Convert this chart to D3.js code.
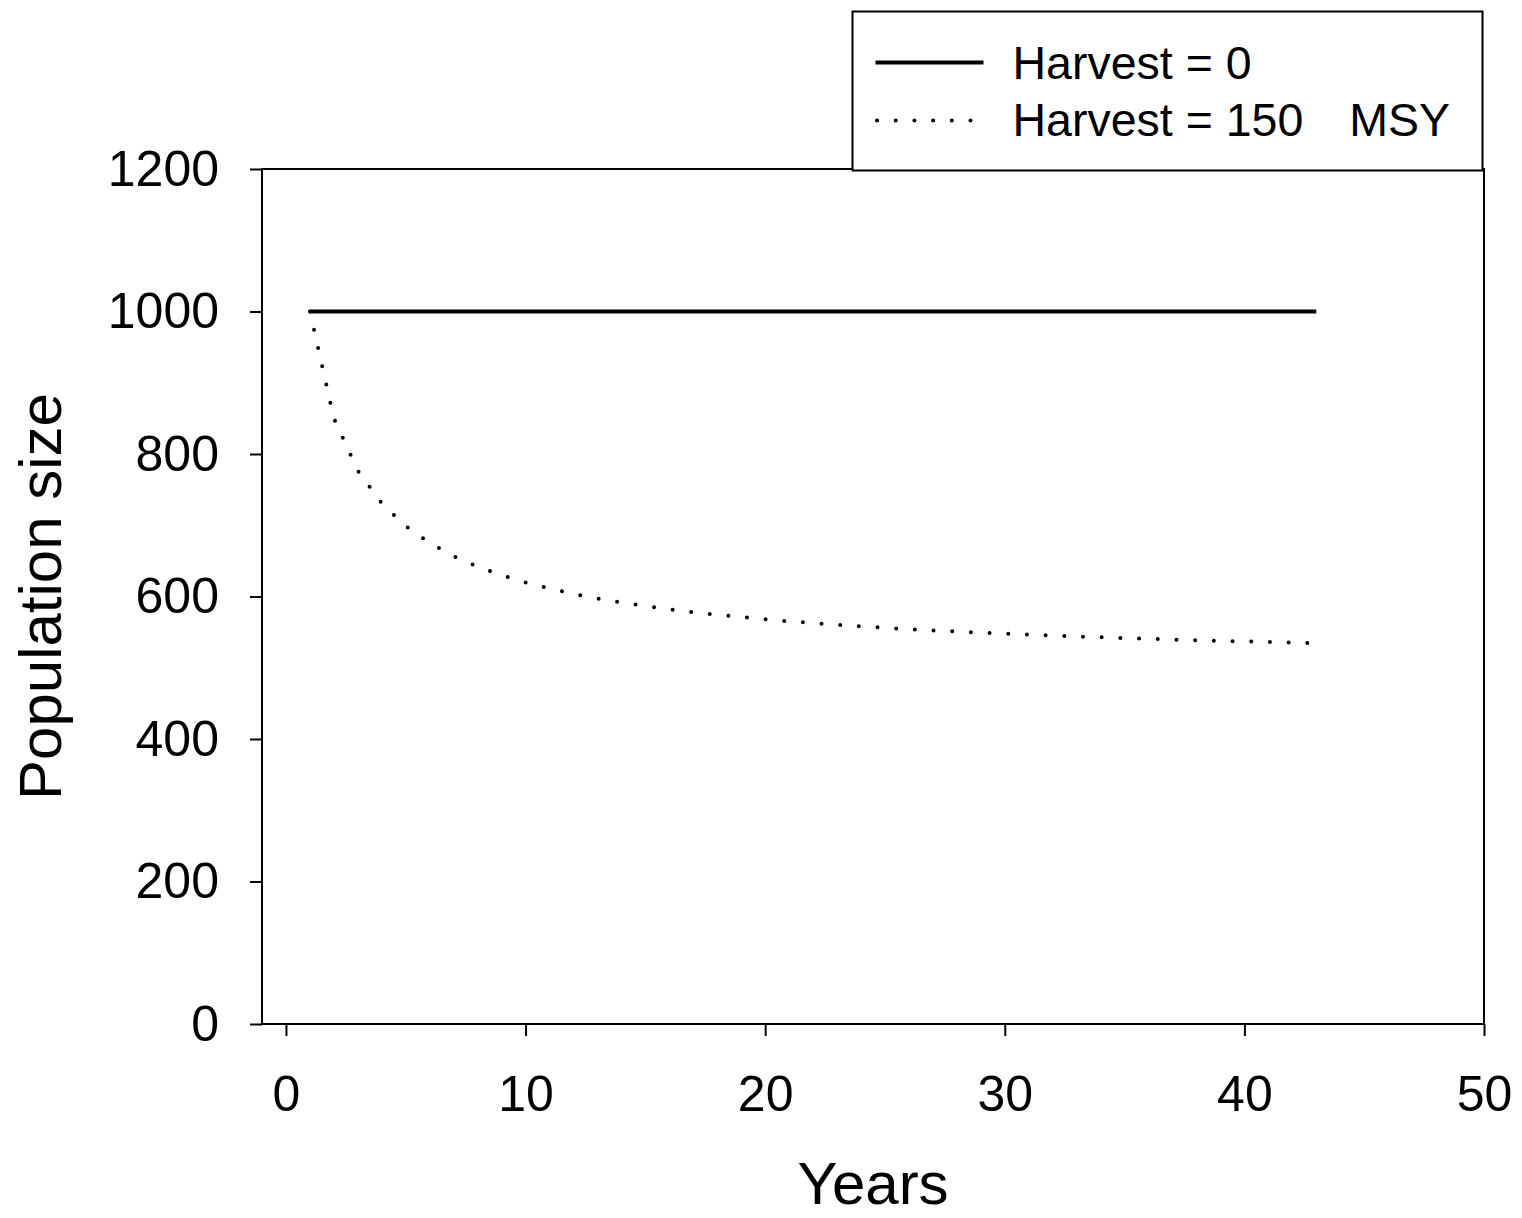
<!DOCTYPE html>
<html>
<head>
<meta charset="utf-8">
<script src="https://cdn.jsdelivr.net/npm/d3@7"></script>
<style>
body{margin:0;background:#fff;}
text{font-family:"Liberation Sans",Arial,sans-serif;fill:#000;}
</style>
</head>
<body>
<div class="chart"></div>
<script>
// data
const years = d3.range(1, 44);
const harvest0 = years.map(() => 1000);
const harvest150 = [1000, 850, 776.5, 730.6, 698.7, 675.0, 656.7, 641.9, 629.8, 619.7,
  611.1, 603.7, 597.3, 591.6, 586.6, 582.1, 578.0, 574.4, 571.1, 568.0,
  565.2, 562.7, 560.3, 558.2, 556.1, 554.2, 552.5, 550.8, 549.3, 547.8,
  546.4, 545.2, 543.9, 542.8, 541.7, 540.6, 539.6, 538.7, 537.8, 536.9,
  536.1, 535.3, 534.6];
const xTicks = [0, 10, 20, 30, 40, 50];
const yTicks = [0, 200, 400, 600, 800, 1000, 1200];
const legendLabels = ['Harvest = 0', 'Harvest = 150'];

const svg_width = 1522, svg_height = 1218;
const margin = {top:169, right:38, bottom:194, left:262};
const chart_width = svg_width - margin.left - margin.right;
const chart_height = svg_height - margin.top - margin.bottom;

const svg = d3.select('.chart').append('svg')
  .attr('width', svg_width).attr('height', svg_height);
const g = svg.append('g').attr('transform', `translate(${margin.left},${margin.top})`);

const xScale = d3.scaleLinear([-1, 50], [0, chart_width]);
const yScale = d3.scaleLinear([0, 1200], [chart_height, 0]);

//axes
const xAxis = d3.axisBottom(xScale).tickValues(xTicks).tickFormat(d3.format('d'))
  .tickSizeInner(12).tickSizeOuter(0).tickPadding(39);
const yAxis = d3.axisLeft(yScale).tickValues(yTicks).tickFormat(d3.format('d'))
  .tickSizeInner(12).tickSizeOuter(0).tickPadding(31);

const xAxisDraw = g.append('g').attr('transform', `translate(0,${chart_height})`).call(xAxis);
const yAxisDraw = g.append('g').call(yAxis);
[xAxisDraw, yAxisDraw].forEach(a => {
  a.select('.domain').remove();
  a.selectAll('line').attr('stroke', '#000').attr('stroke-width', 2);
  a.selectAll('text').style('font-size', '50px').attr('font-family', null);
});

//frame
g.append('rect').attr('x', 0).attr('y', 0)
  .attr('width', chart_width).attr('height', chart_height)
  .attr('fill', 'none').attr('stroke', '#000').attr('stroke-width', 2);

//lines
const line = d3.line().x((d, i) => xScale(years[i])).y(d => yScale(d));
g.append('path').datum(harvest0).attr('d', line)
  .attr('fill', 'none').attr('stroke', '#000').attr('stroke-width', 4);
g.append('path').datum(harvest150).attr('d', line)
  .attr('fill', 'none').attr('stroke', '#000').attr('stroke-width', 4)
  .attr('stroke-linecap', 'round').attr('stroke-dasharray', '0 18.7');

//axis titles
svg.append('text').attr('x', margin.left + chart_width / 2).attr('y', 1204)
  .attr('text-anchor', 'middle').style('font-size', '60px').text('Years');
svg.append('text').attr('transform', `translate(61,${margin.top + chart_height / 2}) rotate(-90)`)
  .attr('text-anchor', 'middle').style('font-size', '60px').text('Population size');

//legend
const legend = svg.append('g').attr('transform', 'translate(852.5,11.5)');
legend.append('rect').attr('width', 630).attr('height', 159)
  .attr('fill', '#fff').attr('stroke', '#000').attr('stroke-width', 2);
legend.append('line').attr('x1', 23).attr('x2', 131).attr('y1', 51).attr('y2', 51)
  .attr('stroke', '#000').attr('stroke-width', 4);
legend.append('line').attr('x1', 24.5).attr('x2', 122).attr('y1', 109).attr('y2', 109)
  .attr('stroke', '#000').attr('stroke-width', 4)
  .attr('stroke-linecap', 'round').attr('stroke-dasharray', '0 18.7');
legend.append('text').attr('x', 160).attr('y', 67).style('font-size', '46.5px').text(legendLabels[0]);
const t2 = legend.append('text').attr('x', 160).attr('y', 124).style('font-size', '46.5px');
t2.append('tspan').text(legendLabels[1]);
t2.append('tspan').attr('dx', 46).text('MSY');
</script>
</body>
</html>
